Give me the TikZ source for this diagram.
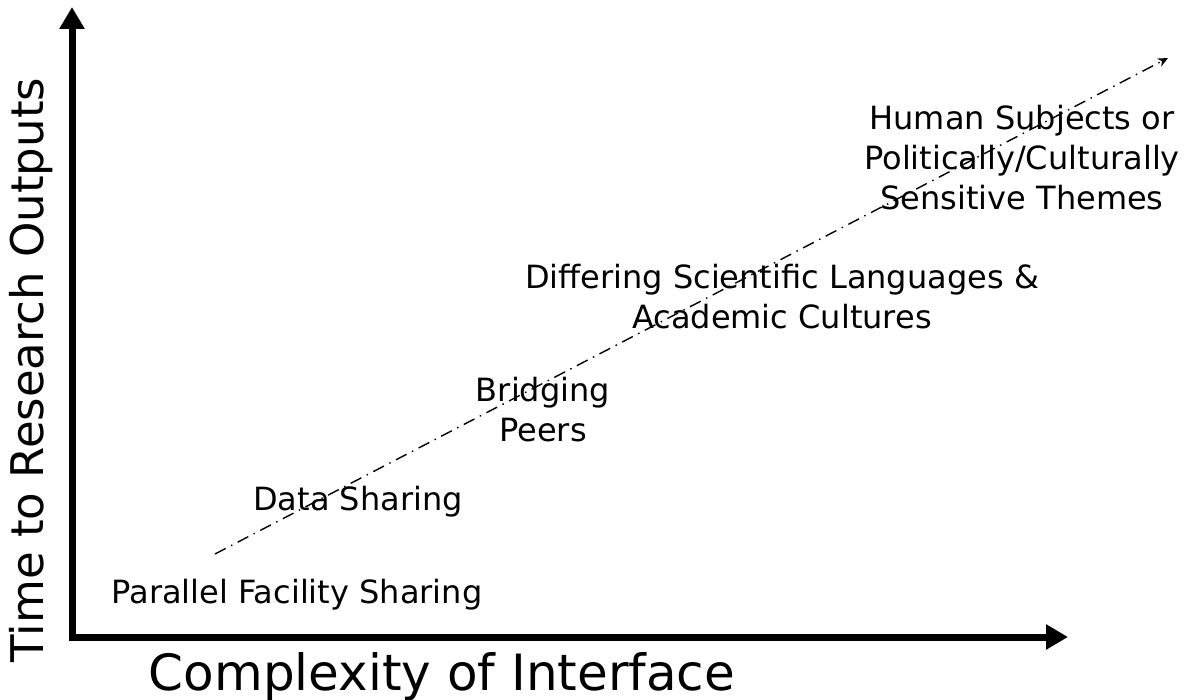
\documentclass[tikz,border=0pt]{standalone}
\usepackage{fontspec}
\setmainfont{DejaVu Sans}
\usepackage{tikz}
\usetikzlibrary{arrows.meta}
\usetikzlibrary{positioning}
\tikzstyle{axis} = [draw, line width=7pt, -{Triangle[length=22pt,width=24pt]}]
\tikzstyle{trend} = [draw, line width=1.4pt, dash pattern=on 12pt off 6pt on 1.5pt off 6pt,
    -{Stealth[length=10pt,width=9pt]}]
\tikzstyle{stage} = [inner sep=0pt, align=center, font=\fontsize{32}{40}\selectfont]
\tikzstyle{axislabel} = [inner sep=0pt, anchor=base]

\begin{document}
\begin{tikzpicture}[x=1pt,y=-1pt]
    \useasboundingbox (0,0) rectangle (1186,700);
    % Place coordinates
    \coordinate (origin) at (72,637);
    \coordinate (ytop) at (72,7);
    \coordinate (xend) at (1068,637);
    \coordinate (trendstart) at (215,554);
    \coordinate (trendend) at (1168,58);
    % Place labels
    \node[stage] (parallel) at (297,595) {Parallel Facility Sharing};
    \node[stage] (data) at (358,502) {Data Sharing};
    \node[stage] (bridging) at (543,410) {Bridging\\Peers};
    \node[stage] (differing) at (782,297) {Differing Scientific Languages \&\\Academic Cultures};
    \node[stage] (human) at (1022,158) {Human Subjects or\\Politically/Culturally\\Sensitive Themes};
    \node[axislabel, font=\fontsize{50}{56}\selectfont] (xlabel) at (442,690) {Complexity of Interface};
    \node[axislabel, font=\fontsize{45}{50}\selectfont, rotate=90] (ylabel) at (43,370) {Time to Research Outputs};
    % Draw axes
    \path [axis] (origin) -- (ytop);
    \path [axis] ([xshift=-3.5pt]origin) -- (xend);
    \path [trend] (trendstart) -- (trendend);
\end{tikzpicture}
\end{document}
